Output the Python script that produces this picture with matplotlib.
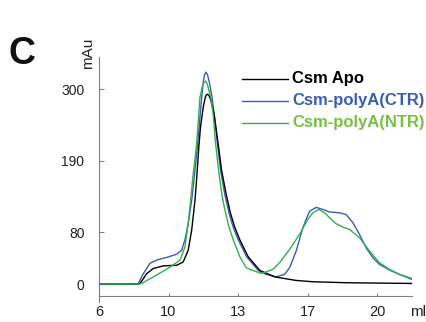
import matplotlib
matplotlib.use("Agg")
import matplotlib.pyplot as plt
from matplotlib.lines import Line2D

plt.rcParams['font.family'] = ['Liberation Sans', 'DejaVu Sans']

# ---------------------------------------------------------
# Data (x in axis units; ticks are labelled 6/10/13/17/20)
# ---------------------------------------------------------
apo_x = [6.0, 8.2, 8.36, 8.74, 9.12, 9.7, 10.47, 10.84, 11.13, 11.33, 11.52, 11.61,
         11.75, 11.84, 12.0, 12.12, 12.18, 12.25, 12.34, 12.42, 12.63, 12.86, 13.05,
         13.3, 13.55, 13.8, 14.10, 14.58, 15.25, 16.11, 17.34, 18.3, 20.21, 24.0]
apo_y = [0, 0, 1, 16, 24, 28, 29, 34, 52, 83, 129, 160,
         214, 242, 273, 288, 291, 292, 289, 284, 260, 214, 175,
         140, 110, 88, 68, 42, 21, 11, 5.6, 3.6, 2.1, 1.0]

ctr_x = [6.0, 8.2, 8.26, 8.55, 8.93, 9.32, 9.89, 10.47, 10.75, 10.94, 11.13, 11.33,
         11.46, 11.67, 11.76, 11.9, 12.0, 12.07, 12.15, 12.24, 12.34, 12.51, 12.82,
         13.01, 13.24, 13.5, 13.75, 14.01, 14.49, 15.16, 15.62, 16.19, 16.67, 16.96,
         17.34, 17.72, 18.11, 18.49, 18.87, 19.26, 19.83, 20.21, 20.6, 20.98, 21.36,
         21.75, 22.13, 22.71, 23.28, 24.0]
ctr_y = [0, 0, 1, 16, 32, 37, 41, 46, 52, 68, 93, 129,
         160, 214, 242, 286, 311, 322, 326, 322, 311, 286, 214,
         172, 137, 107, 85, 68, 42, 21, 14.9, 11.3, 14.9, 25.1,
         50.8, 86.7, 112, 118, 114.9, 110.8, 109.7, 107, 94.4, 76.4, 55.9,
         40.5, 30.3, 21.5, 14.9, 7.2]

ntr_x = [6.0, 8.3, 8.45, 9.32, 10.08, 10.66, 10.94, 11.13, 11.27, 11.38, 11.61, 11.71,
         11.8, 11.95, 12.04, 12.13, 12.22, 12.3, 12.44, 12.57, 12.70, 12.90, 13.05,
         13.20, 13.45, 13.72, 14.10, 14.47, 14.78, 15.35, 16.0, 16.38, 16.96, 17.53,
         18.01, 18.3, 18.64, 18.97, 19.26, 19.64, 20.02, 20.41, 20.98, 21.56, 22.13,
         22.71, 23.28, 24.0]
ntr_y = [0, 0, 1, 14, 26, 37, 57, 93, 129, 160, 214, 250,
         286, 305, 310, 312, 308, 300, 286, 260, 217, 170, 140,
         119, 90, 68, 42, 25.1, 21.5, 16.4, 22.6, 32.8, 53.3, 76.4,
         99.5, 109.7, 114.9, 109.7, 102, 92.8, 87.7, 84.1, 71.3, 50.8, 32.8,
         22.6, 14.9, 8.7]

series_names = ['Csm Apo', 'Csm-polyA(CTR)', 'Csm-polyA(NTR)']
x_tick_pos = [6, 10, 14, 18, 22]
x_tick_labels = ['6', '10', '13', '17', '20']
y_ticks = [0, 80, 190, 300]

# colours
c_apo = '#000000'
c_ctr = '#3b5cb5'
c_ntr = '#2fb24a'
c_ntr_text = '#78c043'
c_axis = '#808080'

W, H = 427, 322
fig = plt.figure(figsize=(W / 100, H / 100), dpi=100)

# axes placed in pixel terms: x 99..412, y 56.5..302.3
ax = fig.add_axes([99 / W, 1 - 302.3 / H, (412 - 99) / W, (302.3 - 56.5) / H])
ax.set_xlim(6, 24)
ax.set_ylim(-28, 350)

ax.plot(ctr_x, ctr_y, color=c_ctr, lw=1.0, zorder=3)
ax.plot(apo_x, apo_y, color=c_apo, lw=1.0, zorder=4)
ax.plot(ntr_x, ntr_y, color=c_ntr, lw=1.0, zorder=5)

for s in ['top', 'right']:
    ax.spines[s].set_visible(False)
ax.spines['bottom'].set_position(('data', -18))
for s in ['left', 'bottom']:
    ax.spines[s].set_color(c_axis)
    ax.spines[s].set_linewidth(0.8)

ax.set_xticks(x_tick_pos)
ax.set_xticklabels(x_tick_labels)
ax.set_yticks(y_ticks)
ax.tick_params(axis='x', direction='in', length=2.5, width=0.8, color=c_axis,
               pad=6.5, labelsize=10.5, labelcolor='#222222')
ax.tick_params(axis='y', direction='in', length=3.5, width=0.8, color=c_axis,
               pad=10.5, labelsize=10, labelcolor='#222222')

# axis labels and panel letter
fig.text(418 / W, 1 - 311.5 / H, 'ml', ha='center', va='center', fontsize=11, color='#222222')
fig.text(88 / W, 1 - 53 / H, 'mAu', ha='center', va='center', rotation=90,
         fontsize=11, color='#222222')
fig.text(22.5 / W, 1 - 54 / H, 'C', ha='center', va='center', fontsize=27,
         fontweight='bold', color='#111111')

# hand-placed legend
leg_y = [79, 101, 123]
line_cols = [c_apo, c_ctr, c_ntr]
text_cols = [c_apo, c_ctr, c_ntr_text]
for name, py, lc, tc in zip(series_names, leg_y, line_cols, text_cols):
    fig.add_artist(Line2D([242 / W, 288 / W], [1 - py / H, 1 - py / H],
                          color=lc, lw=1.0, transform=fig.transFigure))
    fig.text(292 / W, 1 - (py - 0.5) / H, name, ha='left', va='center',
             fontsize=12, fontweight='bold', color=tc)

fig.savefig('out.png', dpi=100)
